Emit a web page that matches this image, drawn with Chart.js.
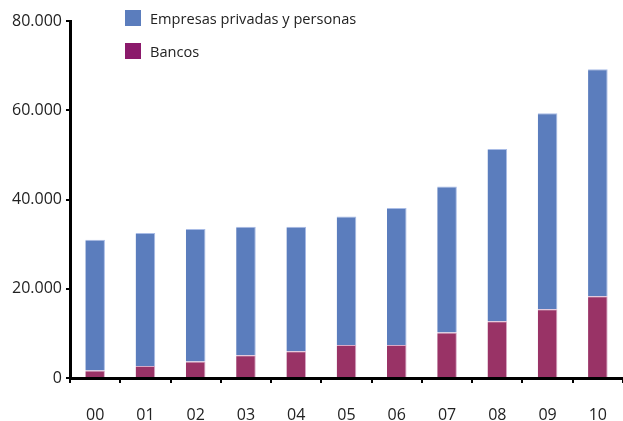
<!DOCTYPE html>
<html>
<head>
<meta charset="utf-8">
<script src="https://cdn.jsdelivr.net/npm/chart.js@4/dist/chart.umd.min.js"></script>
<style>
  html, body { margin: 0; padding: 0; background: #fff; }
  #wrap { position: relative; width: 623px; height: 421px; }
  #legend { position: absolute; left: 125px; top: 9px; font-family: "Open Sans", sans-serif; font-size: 14.6px; color: #222; }
  .item { display: flex; align-items: center; height: 17px; margin-bottom: 16px; }
  .box { width: 16px; height: 16px; margin-right: 9px; }
</style>
</head>
<body>
<div id="wrap">
  <canvas id="myChart" width="623" height="421"></canvas>
  <div id="legend"></div>
</div>
<script>
// values

var years = ["00", "01", "02", "03", "04", "05", "06", "07", "08", "09", "10"];
var bancos = [1700, 2700, 3700, 5100, 6000, 7400, 7400, 10200, 12700, 15400, 18300];
var empresas = [29300, 29800, 29700, 28800, 27900, 28800, 30700, 32700, 38600, 43900, 50900];
var yTicks = [0, 20000, 40000, 60000, 80000];

var colorEmpresas = "#5b7dbd";
var colorBancos = "#993366";

// legend as html
var legendItems = [
  { label: "Empresas privadas y personas", color: colorEmpresas },
  { label: "Bancos", color: "#8b1a6b" }
];
var legendDiv = document.getElementById("legend");
legendItems.forEach(function (it) {
  var row = document.createElement("div");
  row.className = "item";
  row.innerHTML = '<span class="box" style="background:' + it.color + '"></span><span>' + it.label + '</span>';
  legendDiv.appendChild(row);
});

function fmt(v) {
  return v.toString().replace(/\B(?=(\d{3})+(?!\d))/g, ".");
}

Chart.defaults.font.family = '"Open Sans", sans-serif';
Chart.defaults.color = "#222";

var ctx = document.getElementById("myChart");
var myChart = new Chart(ctx, {
  type: 'bar',
  data: {
    labels: years,
    datasets: [
      {
        label: "Bancos",
        data: bancos,
        backgroundColor: colorBancos,
        borderColor: "#d9a9c6",
        borderWidth: { left: 0, right: 1, top: 1, bottom: 0 },
        borderSkipped: false,
        categoryPercentage: 1,
        barPercentage: 0.39
      },
      {
        label: "Empresas privadas y personas",
        data: empresas,
        backgroundColor: colorEmpresas,
        borderColor: "#a9bce6",
        borderWidth: { left: 0, right: 1, top: 1, bottom: 0 },
        borderSkipped: false,
        categoryPercentage: 1,
        barPercentage: 0.39
      }
    ]
  },
  options: {
    responsive: false,
    animation: false,
    layout: { padding: { top: 21, right: 0, left: 0, bottom: 0 } },
    plugins: { legend: { display: false }, tooltip: { enabled: false } },
    scales: {
      x: {
        stacked: true,
        offset: true,
        grid: { display: true, drawOnChartArea: false, offset: true, color: "#000", lineWidth: 2, tickLength: 5 },
        border: { color: "#000", width: 3 },
        ticks: { font: { size: 16 }, padding: 23, color: "#222" },
        afterFit: function (scale) {
          scale.height = 43;
          scale.paddingLeft = 0;
          scale.paddingRight = 0;
        }
      },
      y: {
        stacked: true,
        min: 0,
        max: 80000,
        afterBuildTicks: function (scale) {
          scale.ticks = yTicks.map(function (v) { return { value: v }; });
        },
        grid: { display: true, drawOnChartArea: false, color: "#000", lineWidth: 2, tickLength: 4 },
        border: { color: "#000", width: 3 },
        ticks: {
          font: { size: 16 },
          padding: 4,
          color: "#222",
          callback: function (v) { return fmt(v); }
        },
        afterFit: function (scale) { scale.width = 70; }
      }
    }
  }
});
</script>
</body>
</html>
